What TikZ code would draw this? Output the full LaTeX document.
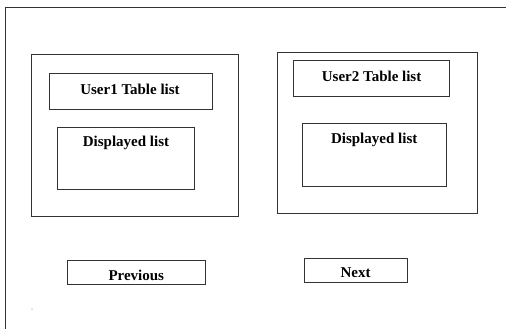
\documentclass[tikz,border=0pt]{standalone}
\usepackage{fontspec}
\setmainfont{Liberation Serif}
\begin{document}
\begin{tikzpicture}[x=1pt,y=-1pt,
  frame/.style={draw=black!80,line width=0.9pt},
  box/.style={draw=black!80,line width=0.9pt,rectangle,inner sep=0pt},
  lbl/.style={anchor=base,inner sep=0pt,font=\fontsize{15}{15}\selectfont\bfseries}]
\useasboundingbox (0,0) rectangle (506,329);
\fill[white] (0,0) rectangle (506,329);
% page frame: left and top edges only
\coordinate (fbl) at (5,329);
\coordinate (ftl) at (5,7.5);
\coordinate (ftr) at (506,7.5);
\draw[frame] (fbl) -- (ftl) -- (ftr);
% user 1 panel
\node[box,minimum width=207,minimum height=162] (p1) at (134.5,135) {};
\node[box,minimum width=163,minimum height=36] (t1) at (130.5,91) {};
\node[lbl] (t1l) at (130,94.3) {User1 Table list};
\node[box,minimum width=137,minimum height=62.5] (d1) at (126,158.2) {};
\node[lbl] (d1l) at (126,146.5) {Displayed list};
% user 2 panel
\node[box,minimum width=200,minimum height=161] (p2) at (377.7,132.5) {};
\node[box,minimum width=155.6,minimum height=35.5] (t2) at (371.5,78.7) {};
\node[lbl] (t2l) at (371.6,81.7) {User2 Table list};
\node[box,minimum width=143.3,minimum height=62.3] (d2) at (374.4,154.8) {};
\node[lbl] (d2l) at (374.2,143.3) {Displayed list};
% navigation buttons
\node[box,minimum width=138,minimum height=24] (prev) at (136.3,272.7) {};
\node[lbl] (prevl) at (136.3,280) {Previous};
\node[box,minimum width=102.3,minimum height=24.4] (next) at (355.8,270.5) {};
\node[lbl] (nextl) at (355.6,277.7) {Next};
% stray dot near the lower left
\fill[black!70] (32,309) circle (0.5);
\end{tikzpicture}
\end{document}
